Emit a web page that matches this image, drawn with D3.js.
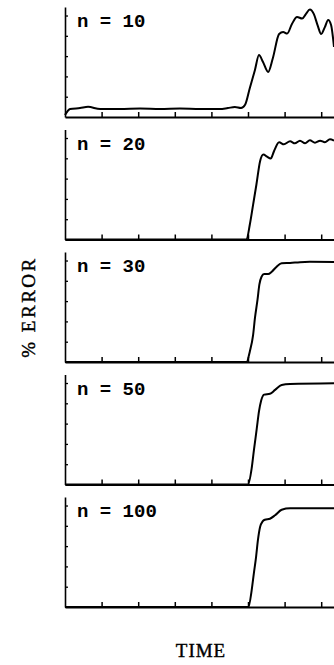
<!DOCTYPE html>
<html>
<head>
<meta charset="utf-8">
<script src="https://cdn.jsdelivr.net/npm/d3@7"></script>
<style>
  body { margin: 0; background: #fff; }
  svg { display: block; }
</style>
</head>
<body>
<div id="chart"></div>
<script>
// Panel labels (one per network size)
const panelLabels = ["n = 10", "n = 20", "n = 30", "n = 50", "n = 100"];

// Curves: [time, % error], both in tick units
const errN10 = [[0,0.1],[0.14,0.39],[0.41,0.44],[0.63,0.5],[0.96,0.39],[1.5,0.39],[2.05,0.42],
  [2.6,0.39],[3.14,0.42],[3.69,0.39],[4.23,0.39],[4.45,0.44],[4.64,0.49],[4.81,0.44],[4.92,0.6],
  [5.05,1.43],[5.19,2.32],[5.3,3.05],[5.41,2.71],[5.55,2.22],[5.68,2.91],[5.85,4.09],[5.96,4.19],
  [6.07,4.11],[6.2,4.58],[6.34,4.93],[6.48,4.85],[6.58,5.07],[6.69,5.3],[6.8,5.07],[6.9,4.53],
  [7.0,4.09],[7.1,4.43],[7.19,4.78],[7.27,4.53],[7.35,3.45]];
const errN20 = [[0,0],[4.96,0],[5.05,0.74],[5.14,1.72],[5.23,2.71],[5.33,3.86],[5.42,4.19],
  [5.52,4.08],[5.62,3.99],[5.71,4.35],[5.85,4.79],[5.98,4.69],[6.15,4.84],[6.28,4.74],[6.42,4.87],
  [6.56,4.74],[6.69,4.89],[6.83,4.77],[6.97,4.87],[7.1,4.79],[7.24,4.94],[7.35,4.87]];
const errN30 = [[0,0],[4.96,0],[5.05,0.52],[5.14,1.34],[5.19,2.17],[5.26,3.07],[5.31,3.81],
  [5.37,4.2],[5.44,4.33],[5.55,4.33],[5.65,4.45],[5.79,4.71],[5.92,4.86],[6.15,4.88],[6.42,4.92],
  [6.69,4.94],[7.35,4.93]];
const errN50 = [[0,0],[5.0,0],[5.1,0.79],[5.16,1.67],[5.24,2.76],[5.3,3.6],[5.36,4.14],[5.44,4.43],
  [5.6,4.47],[5.74,4.66],[5.92,4.9],[6.15,4.95],[7.35,4.99]];
const errN100 = [[0,0],[5.01,0],[5.1,0.82],[5.16,1.66],[5.22,2.46],[5.27,3.28],[5.33,3.94],
  [5.4,4.22],[5.46,4.3],[5.6,4.35],[5.74,4.52],[5.92,4.79],[6.15,4.86],[7.35,4.86]];

// Tick positions
const xTicks = [1, 2, 3, 4, 5, 6, 7, 8];
const yTicks = [1, 2, 3, 4, 5];

const series = [errN10, errN20, errN30, errN50, errN100];

const width = 334, height = 665;
const left = 65, plotW = 292.8;
const firstBottom = 117, step = 122.5, plotH = 110;

const svg = d3.select("#chart").append("svg")
    .attr("width", width)
    .attr("height", height);

const x = d3.scaleLinear().domain([0, 8]).range([left, left + plotW]);

series.forEach(function(data, i) {
    let bottom = firstBottom + i * step;
    let y = d3.scaleLinear().domain([0, 5.42]).range([bottom, bottom - plotH]);

    let g = svg.append("g");

    // bottom axis, ticks pointing up
    g.append("g")
        .attr("transform", "translate(0," + bottom + ")")
        .call(d3.axisBottom(x).tickValues(xTicks).tickSize(-5).tickSizeOuter(0).tickFormat(""))
        .call(a => a.select(".domain").attr("stroke-width", 2))
        .call(a => a.selectAll(".tick line").attr("stroke-width", 1.5));

    // left axis, ticks pointing in
    g.append("g")
        .attr("transform", "translate(" + left + ",0)")
        .call(d3.axisLeft(y).tickValues(yTicks).tickSize(-3).tickSizeOuter(0).tickFormat(""))
        .call(a => a.select(".domain").attr("stroke-width", 1.6))
        .call(a => a.selectAll(".tick line").attr("stroke-width", 1.3));

    // curve
    g.append("path")
        .datum(data)
        .attr("fill", "none")
        .attr("stroke", "#000")
        .attr("stroke-width", 2)
        .attr("stroke-linejoin", "round")
        .attr("d", d3.line()
            .x(d => x(d[0]))
            .y(d => y(d[1]))
            .curve(d3.curveMonotoneX));

    // panel label
    g.append("text")
        .attr("x", 77)
        .attr("y", bottom - 90)
        .attr("fill", "#000")
        .attr("font-family", "Liberation Mono, monospace")
        .attr("font-weight", "bold")
        .attr("font-size", 19)
        .attr("xml:space", "preserve")
        .text(panelLabels[i]);
});

// axis titles
svg.append("text")
    .attr("transform", "translate(35,307) rotate(-90)")
    .attr("text-anchor", "middle")
    .attr("fill", "#000")
    .attr("stroke", "#000")
    .attr("stroke-width", 0.4)
    .attr("font-family", "Liberation Serif, serif")
    .attr("font-size", 19)
    .attr("letter-spacing", 2.5)
    .text("% ERROR");

svg.append("text")
    .attr("x", 201)
    .attr("y", 657)
    .attr("text-anchor", "middle")
    .attr("fill", "#000")
    .attr("stroke", "#000")
    .attr("stroke-width", 0.4)
    .attr("font-family", "Liberation Serif, serif")
    .attr("font-size", 19)
    .attr("letter-spacing", 1)
    .text("TIME");
</script>
</body>
</html>
